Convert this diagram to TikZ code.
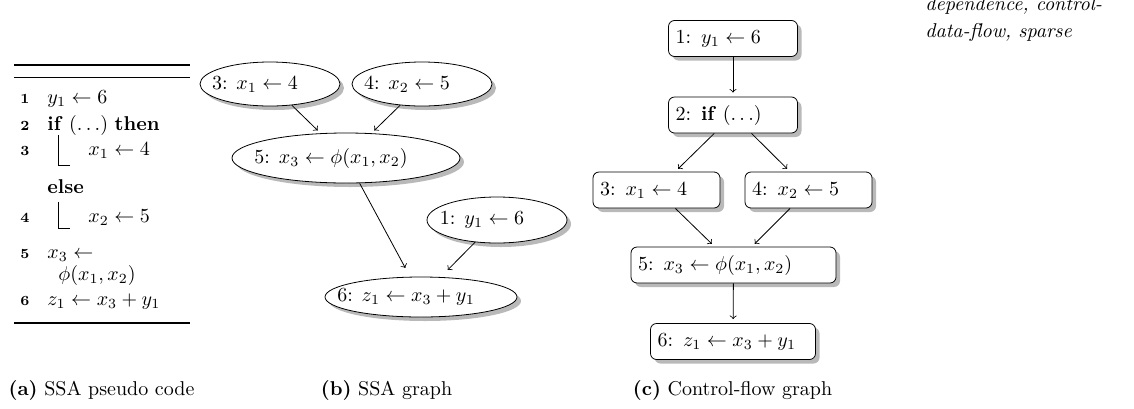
\documentclass[tikz,border=0pt]{standalone}
\usetikzlibrary{shapes.geometric, shadows}

% text pushed to the left of its ellipse
\newcommand{\lefttxt}[1]{\makebox[0pt]{#1\hspace{15pt}}}

\begin{document}
\begin{tikzpicture}[x=0.5pt, y=-0.5pt,
	every node/.style={inner sep=0pt},
	codeline/.style={anchor=base west},
	lineno/.style={anchor=base, font=\scriptsize\bfseries},
	ssanode/.style={draw, ellipse, fill=white, minimum height=22pt,
		drop shadow={opacity=0.55, shadow xshift=2pt, shadow yshift=-2pt}},
	cfgnode/.style={draw, rectangle, rounded corners=3pt, fill=white,
		minimum height=18pt, inner xsep=3.5pt, align=left,
		drop shadow={opacity=0.55, shadow xshift=2pt, shadow yshift=-2pt}},
	flow/.style={->, shorten >=2pt},
	caption/.style={anchor=base}]
	\useasboundingbox (0,0) rectangle (1134,408);

	% (a) pseudo code
	\draw[line width=0.8pt] (14,65) -- (190,65);
	\draw[line width=0.5pt] (14,77) -- (190,77);
	\node[lineno] (n1) at (25,103) {1};
	\node[codeline] (l1) at (47,103) {$y_1 \leftarrow 6$};
	\node[lineno] (n2) at (25,130) {2};
	\node[codeline] (l2) at (47,130) {\textbf{if} $(\dots)$ \textbf{then}};
	\node[lineno] (n3) at (25,155) {3};
	\node[codeline] (l3) at (88,155) {$x_1 \leftarrow 4$};
	\node[codeline] (le) at (47,193) {\textbf{else}};
	\node[lineno] (n4) at (25,222) {4};
	\node[codeline] (l4) at (88,222) {$x_2 \leftarrow 5$};
	\node[lineno] (n5) at (25,258) {5};
	\node[codeline] (l5) at (47,258) {$x_3 \leftarrow$};
	\node[codeline] (l5b) at (58,280) {$\phi(x_1, x_2)$};
	\node[lineno] (n6) at (25,305) {6};
	\node[codeline] (l6) at (47,305) {$z_1 \leftarrow x_3 + y_1$};
	\draw (58,135) |- (70,165);
	\draw (58,202) |- (70,228);
	\draw[line width=0.8pt] (14,323) -- (190,323);

	% (b) SSA graph
	\node[ssanode, minimum width=70pt] (s3) at (270,84) {\lefttxt{3: $x_1 \leftarrow 4$}};
	\node[ssanode, minimum width=70pt] (s4) at (422,84) {\lefttxt{4: $x_2 \leftarrow 5$}};
	\node[ssanode, minimum width=114pt, minimum height=25pt] (s5) at (346,158) {\lefttxt{5: $x_3 \leftarrow \phi(x_1, x_2)$}};
	\node[ssanode, minimum width=70pt, minimum height=23pt] (s1) at (497,220) {\lefttxt{1: $y_1 \leftarrow 6$}};
	\node[ssanode, minimum width=96pt, minimum height=20pt] (s6) at (421,297) {\lefttxt{6: $z_1 \leftarrow x_3 + y_1$}};
	\draw[flow] (s3) -- (s5);
	\draw[flow] (s4) -- (s5);
	\draw[flow, shorten >=5pt] (s5) -- (s6);
	\draw[flow, shorten >=5pt] (s1) -- (s6);

	% (c) control-flow graph
	\node[cfgnode, text width=57.5pt] (c1) at (733,38.5) {1: $y_1 \leftarrow 6$};
	\node[cfgnode, text width=57.5pt] (c2) at (733,115) {2: \textbf{if} $(\dots)$};
	\node[cfgnode, text width=56.5pt] (c3) at (656.5,190) {3: $x_1 \leftarrow 4$};
	\node[cfgnode, text width=56.5pt] (c4) at (808.5,190) {4: $x_2 \leftarrow 5$};
	\node[cfgnode, text width=95.5pt] (c5) at (733.5,265) {5: $x_3 \leftarrow \phi(x_1, x_2)$};
	\node[cfgnode, text width=75.5pt] (c6) at (733,341.5) {6: $z_1 \leftarrow x_3 + y_1$};
	\draw[flow] (c1) -- (c2);
	\draw[flow] (c2) -- (c3);
	\draw[flow] (c2) -- (c4);
	\draw[flow] (c3) -- (c5);
	\draw[flow] (c4) -- (c5);
	\draw[flow] (c5) -- (c6);

	% captions
	\node[caption] (capa) at (101.5,395) {\textbf{(a)} SSA pseudo code};
	\node[caption] (capb) at (386.5,395) {\textbf{(b)} SSA graph};
	\node[caption] (capc) at (732.5,395) {\textbf{(c)} Control-flow graph};

	% margin note
	\node[anchor=base west, font=\itshape] (note1) at (925,10) {dependence, control-};
	\node[anchor=base west, font=\itshape] (note2) at (925,37) {data-flow, sparse};
\end{tikzpicture}
\end{document}
